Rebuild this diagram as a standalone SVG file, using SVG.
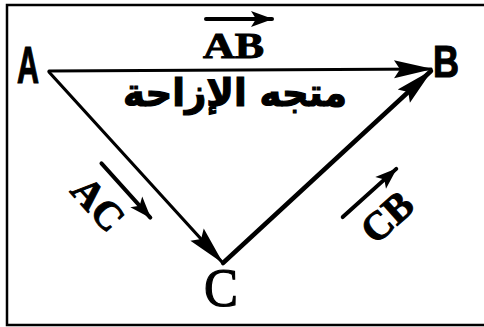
<svg xmlns="http://www.w3.org/2000/svg" width="484" height="327" viewBox="0 0 484 327">
<style>
.frame{fill:none;stroke:#000;stroke-width:2.5}
.edge{fill:none;stroke:#000;stroke-linecap:round}
.vec{fill:none;stroke:#000;stroke-width:4;stroke-linecap:round}
.pt{font-family:"Liberation Sans",Arial,sans-serif;fill:#000;stroke:#000;stroke-width:1.2}
.ser{font-family:"Liberation Serif","Times New Roman",serif;fill:#000;stroke:#000}
.ar{font-family:"DejaVu Sans","Noto Sans",sans-serif;font-weight:bold;fill:#000;stroke:#000;stroke-width:1.2}
</style>
<defs>
<marker id="big" markerUnits="userSpaceOnUse" viewBox="-40 -12 44 24" refX="0" refY="0" markerWidth="44" markerHeight="24" orient="auto">
<path d="M2,0 L-37,-9 L-31,0 L-37,9 Z" fill="#000"/>
</marker>
<marker id="small" markerUnits="userSpaceOnUse" viewBox="-24 -10 26 20" refX="0" refY="0" markerWidth="26" markerHeight="20" orient="auto">
<path d="M1,0 L-21,-8 L-16,0 L-21,8 Z" fill="#000"/>
</marker>
</defs>
<rect width="484" height="327" fill="#fff"/>
<path class="frame" d="M490 5 H7 V325 H490"/>
<g id="connectors">
<line class="edge" x1="49" y1="71" x2="431" y2="69" stroke-width="3" marker-end="url(#big)"/>
<line class="edge" x1="49" y1="72" x2="222" y2="262" stroke-width="3.2" marker-end="url(#big)"/>
<line class="edge" x1="223" y1="263" x2="431" y2="71" stroke-width="4.5" marker-end="url(#big)"/>
</g>
<g id="node-A"><text class="pt" x="17" y="83" font-size="52" font-weight="bold" textLength="22" lengthAdjust="spacingAndGlyphs">A</text></g>
<g id="node-B"><text class="pt" x="433" y="77" font-size="45" font-weight="bold" textLength="26" lengthAdjust="spacingAndGlyphs">B</text></g>
<g id="node-C"><text class="ser" x="204" y="306" font-size="54" stroke-width="1.2" textLength="34" lengthAdjust="spacingAndGlyphs">C</text></g>
<g id="label-AB">
<line class="vec" x1="206" y1="19" x2="272" y2="19" marker-end="url(#small)"/>
<text class="ser" x="203" y="58" font-size="36" font-weight="bold" stroke-width="1" textLength="61" lengthAdjust="spacingAndGlyphs">AB</text>
</g>
<g id="label-title"><text class="ar" x="235" y="106" font-size="38" text-anchor="middle" textLength="224" lengthAdjust="spacingAndGlyphs" direction="rtl">متجه الإزاحة</text></g>
<g id="label-AC" transform="translate(100,205) rotate(48)">
<line class="vec" x1="-30" y1="-29" x2="43" y2="-29" marker-end="url(#small)"/>
<text class="ser" x="-2" y="14" font-size="40" font-weight="bold" stroke-width="1" text-anchor="middle">AC</text>
</g>
<g id="label-CB" transform="translate(388,218) rotate(-42)">
<line class="vec" x1="-33" y1="-31" x2="39" y2="-31" marker-end="url(#small)"/>
<text class="ser" x="0" y="12" font-size="40" font-weight="bold" stroke-width="1" text-anchor="middle">CB</text>
</g>
</svg>
